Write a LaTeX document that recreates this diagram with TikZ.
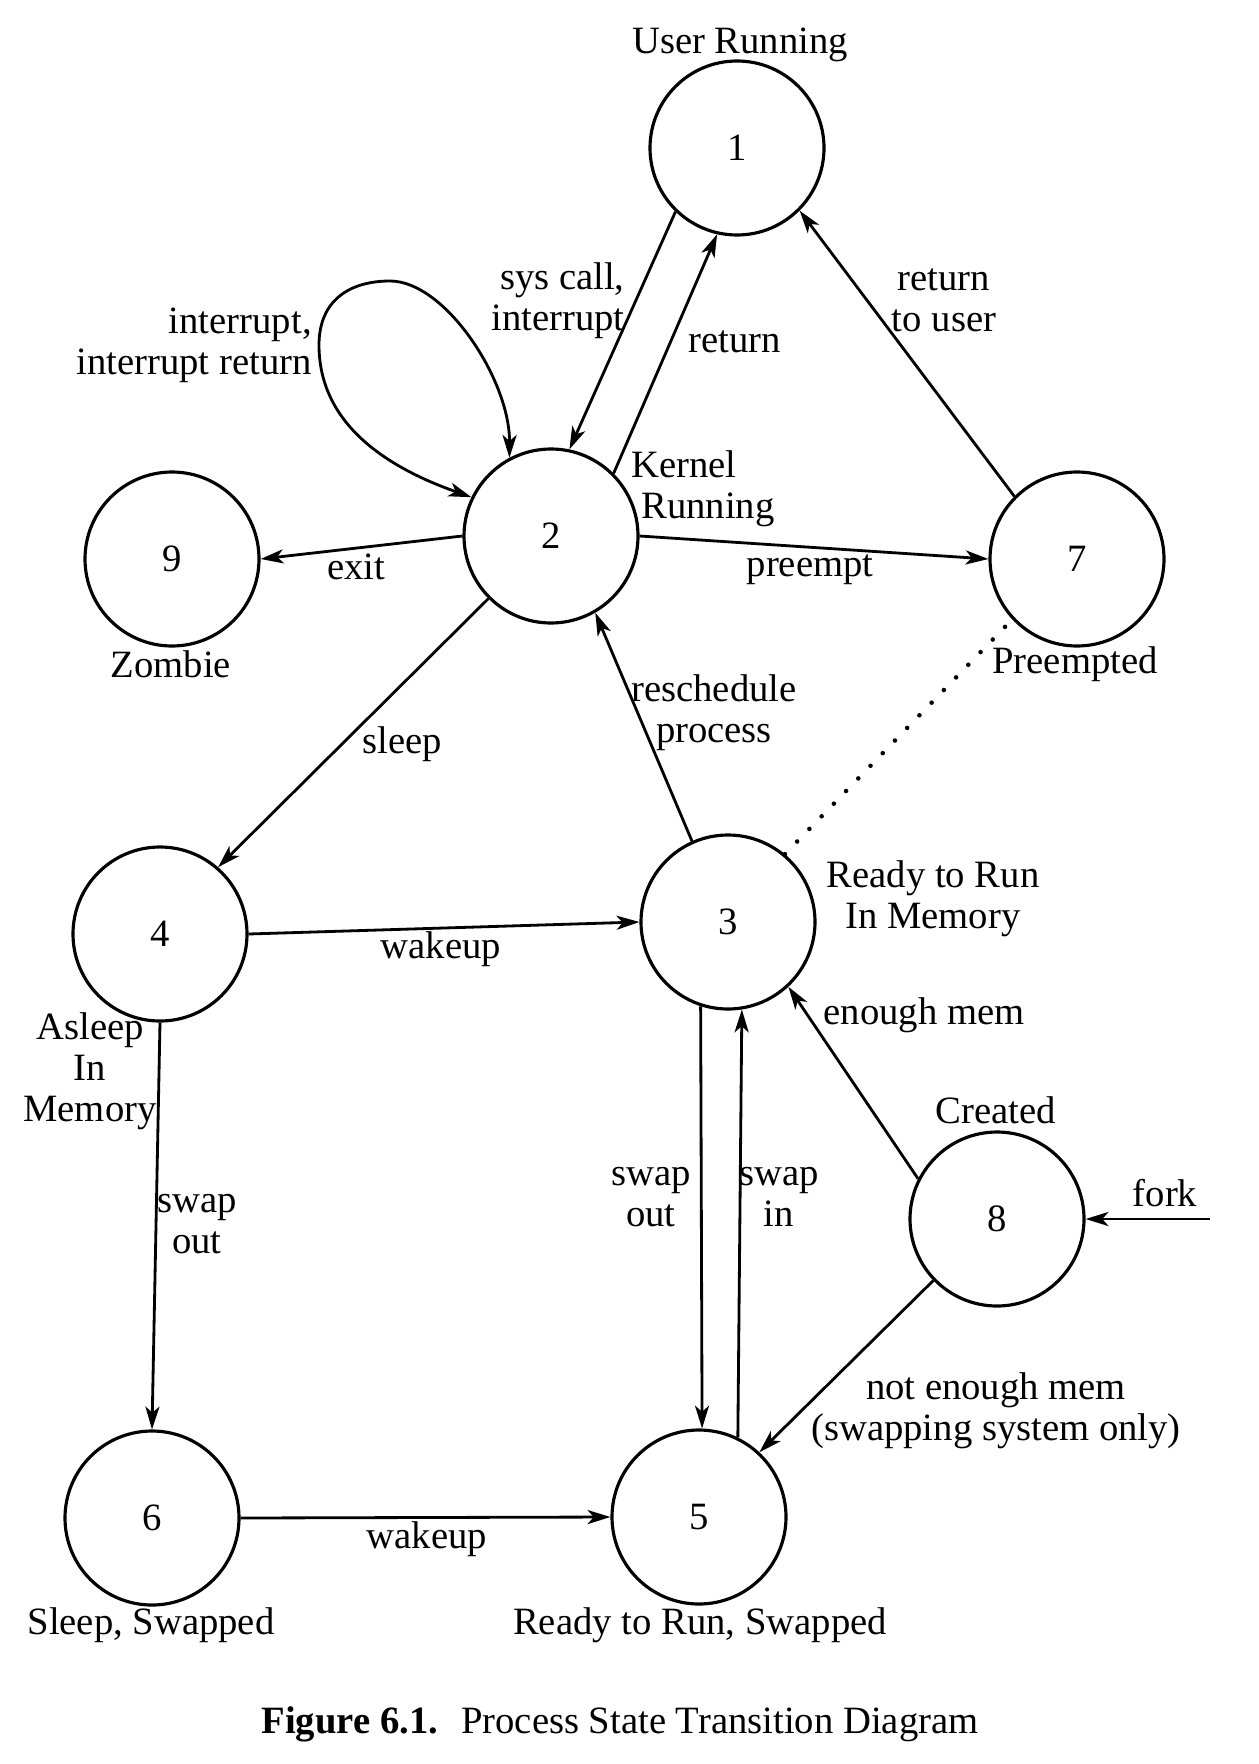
\documentclass[tikz,border=0pt]{standalone}
\usepackage{fontspec}
\setmainfont{Liberation Serif}
\usetikzlibrary{positioning}
\usetikzlibrary{calc}
\usetikzlibrary{arrows.meta}

\begin{document}
\begin{tikzpicture}[
    STATE/.style={circle, draw=black, line width=1.8pt, minimum size=3.48cm, inner sep=0pt},
    TXT/.style={align=center, inner sep=0pt},
    ARR/.style={->, line width=1.6pt},
    DOTS/.style={line width=2.6pt, line cap=round, dash pattern=on 0pt off 10pt},
    >={Stealth[length=13pt, width=8pt, inset=3.5pt]},
    font=\fontsize{22}{23.3}\selectfont,
    ]
        \useasboundingbox (0,0) rectangle (25.16,-35.28);

        \node[STATE] (S1) at (14.74,-2.96) {1};
        \node[STATE] (S2) at (11.02,-10.72) {2};
        \node[STATE] (S3) at (14.56,-18.44) {3};
        \node[STATE] (S4) at (3.20,-18.68) {4};
        \node[STATE] (S5) at (13.98,-30.34) {5};
        \node[STATE] (S6) at (3.04,-30.36) {6};
        \node[STATE] (S7) at (21.54,-11.18) {7};
        \node[STATE] (S8) at (19.94,-24.38) {8};
        \node[STATE] (S9) at (3.44,-11.18) {9};

        \node[TXT] (L1) at (14.80,-0.90) {User Running};
        \node[TXT, align=left] (L2) at (14.06,-9.78) {Kernel\\\hspace*{0.2cm}Running};
        \node[TXT] (L3) at (18.66,-17.98) {Ready to Run\\In Memory};
        \node[TXT] (L4) at (1.80,-21.42) {Asleep\\In\\Memory};
        \node[TXT] (L5) at (14.00,-32.50) {Ready to Run, Swapped};
        \node[TXT] (L6) at (3.02,-32.50) {Sleep, Swapped};
        \node[TXT] (L7) at (21.50,-13.28) {Preempted};
        \node[TXT] (L8) at (19.92,-22.20) {Created};
        \node[TXT] (L9) at (3.42,-13.28) {Zombie};

        \node[TXT, align=right, anchor=east] (syscall) at (12.50,-6.02) {sys call,\\interrupt};
        \node[TXT, align=right, anchor=east] (intr) at (6.24,-6.90) {interrupt,\\interrupt return};
        \node[TXT] (ret) at (14.70,-6.84) {return};
        \node[TXT] (retuser) at (18.88,-6.00) {return\\to user};
        \node[TXT] (exit) at (7.12,-11.34) {exit};
        \node[TXT] (preempt) at (16.20,-11.40) {preempt};
        \node[TXT] (sleep) at (8.04,-14.88) {sleep};
        \node[TXT] (resched) at (14.28,-14.26) {reschedule\\process};
        \node[TXT] (wake1) at (8.82,-18.98) {wakeup};
        \node[TXT] (enough) at (18.48,-20.30) {enough mem};
        \node[TXT] (fork) at (23.30,-23.86) {fork};
        \node[TXT] (swout1) at (3.94,-24.48) {swap\\out};
        \node[TXT] (swout2) at (13.02,-23.94) {swap\\out};
        \node[TXT] (swin) at (15.58,-23.94) {swap\\in};
        \node[TXT] (notenough) at (19.92,-28.22) {not enough mem\\(swapping system only)};
        \node[TXT] (wake2) at (8.54,-30.78) {wakeup};
        \node[TXT] (CAP) at (12.40,-34.48) {\textbf{Figure 6.1.}\hspace{0.6em}Process State Transition Diagram};

        \draw[ARR] (S1.226) -- (S2.78);
        \draw[ARR] (S2.45) -- (S1.257);
        \draw[ARR] (S7.135) -- (S1.315);
        \draw[ARR, <->] (S2.154) .. controls (7.60,-9.30) and (6.38,-8.40) .. (6.38,-6.90)
            .. controls (6.38,-6.00) and (7.00,-5.62) .. (7.80,-5.62)
            .. controls (8.90,-5.62) and (10.20,-7.60) .. (S2.118);
        \draw[ARR] (S2.east) -- (S7.west);
        \draw[ARR] (S2.west) -- (S9.east);
        \draw[ARR] (S2.225) -- (S4.49);
        \draw[ARR] (S3.114) -- (S2.300);
        \draw[DOTS] (S3.50) -- (S7.223);
        \draw[ARR] (S4.east) -- (S3.west);
        \draw[ARR] (S4.south) -- (S6.north);
        \draw[ARR] (S3.252) -- (S5.88);
        \draw[ARR] (S5.64) -- (S3.279);
        \draw[ARR] (S8.153) -- (S3.313);
        \draw[ARR] (S8.224) -- (S5.47);
        \draw[ARR] (S6.east) -- (S5.west);
        \coordinate (F) at (24.20,-24.38);
        \draw[ARR] (F) -- (S8.east);
    \end{tikzpicture}
\end{document}
